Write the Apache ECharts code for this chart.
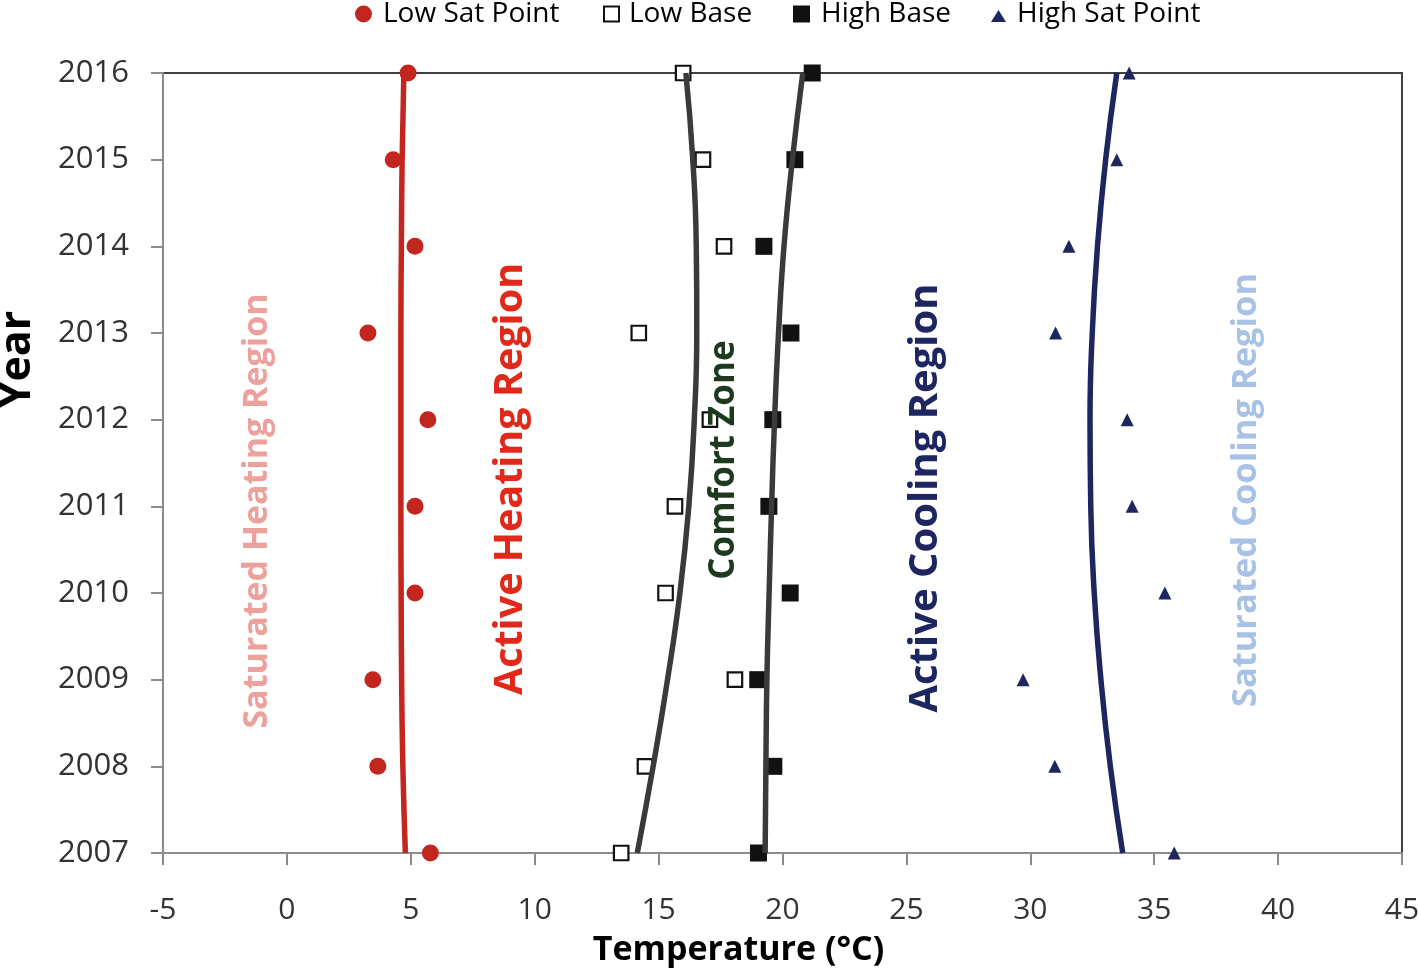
<!DOCTYPE html>
<html>
<head>
<meta charset="utf-8">
<script src="https://cdn.jsdelivr.net/npm/echarts@6/dist/echarts.min.js"></script>
<style>
  html, body { margin: 0; padding: 0; background: #fff; }
  #chart { width: 1418px; height: 971px; }
</style>
</head>
<body>
<div id="chart"></div>
<script>
// ---- data ----
const years = [2007, 2008, 2009, 2010, 2011, 2012, 2013, 2014, 2015, 2016];
const lowSatPoint  = [5.79, 3.67, 3.47, 5.17, 5.17, 5.69, 3.27, 5.17, 4.29, 4.89];
const lowBase      = [13.49, 14.45, 18.08, 15.28, 15.66, 17.07, 14.20, 17.64, 16.79, 15.99];
const highBase     = [19.03, 19.65, 19.00, 20.31, 19.45, 19.61, 20.34, 19.25, 20.50, 21.20];
const highSatPoint = [35.81, 30.99, 29.71, 35.43, 34.11, 33.91, 31.02, 31.56, 33.49, 33.99];
// trend lines (one reading per year)
const lowSatTrend   = [4.78, 4.68, 4.63, 4.61, 4.60, 4.60, 4.60, 4.62, 4.65, 4.72];
const lowBaseTrend  = [14.14, 14.78, 15.36, 15.86, 16.22, 16.44, 16.54, 16.52, 16.38, 16.10];
const highBaseTrend = [19.30, 19.33, 19.37, 19.46, 19.56, 19.68, 19.84, 20.06, 20.40, 20.82];
const highSatTrend  = [33.73, 33.23, 32.85, 32.58, 32.44, 32.41, 32.50, 32.71, 33.04, 33.49];
const xTicks = { min: -5, max: 45, step: 5 };
const yTicks = { min: 2007, max: 2016, step: 1 };
const seriesNames = ['Low Sat Point', 'Low Base', 'High Base', 'High Sat Point'];
const regionLabels = ['Saturated Heating Region', 'Active Heating Region', 'Comfort Zone', 'Active Cooling Region', 'Saturated Cooling Region'];

const pair = (xs) => xs.map((v, i) => [v, years[i]]);
const FONT = 'Open Sans';

const chart = echarts.init(document.getElementById('chart'), null, { renderer: 'canvas' });

const legendCommon = {
  top: 0, padding: 0, itemWidth: 23, itemHeight: 18, selectedMode: false,
  textStyle: { fontFamily: FONT, fontSize: 28, color: '#000' }
};

const trendLine = (name, data, color) => ({
  name, type: 'line', data: pair(data), smooth: 0.5, showSymbol: false, symbol: 'none',
  lineStyle: { color, width: 5.5 }, itemStyle: { color }, silent: true, z: 3
});

const regionText = (text, x, y, size, color) => ({
  type: 'text', x, y, rotation: Math.PI / 2, z: 10,
  style: {
    text, fill: color, font: `bold ${size}px "${FONT}"`,
    align: 'center', verticalAlign: 'middle', textAlign: 'center', textVerticalAlign: 'middle'
  }
});

chart.setOption({
  animation: false,
  backgroundColor: '#fff',
  grid: { left: 163, right: 16, top: 73, bottom: 118, containLabel: false, outerBoundsMode: 'none',
          show: true, borderColor: '#404040', borderWidth: 2, backgroundColor: 'transparent' },
  legend: [
    Object.assign({}, legendCommon, { left: 355, data: [{ name: seriesNames[0], icon: 'path://M0,0 M23,18 M0,9 A8.5,8.5 0 1 1 17,9 A8.5,8.5 0 1 1 0,9 Z' }] }),
    Object.assign({}, legendCommon, { left: 600, data: [{ name: seriesNames[1], icon: 'path://M0,0 M23,18 M3,1.5 L18,1.5 L18,16.5 L3,16.5 Z', itemStyle: { color: '#fff', borderColor: '#111', borderWidth: 2 } }] }),
    Object.assign({}, legendCommon, { left: 793, data: [{ name: seriesNames[2], icon: 'path://M0,0 M23,18 M0,0.5 L17,0.5 L17,17.5 L0,17.5 Z' }] }),
    Object.assign({}, legendCommon, { left: 989, data: [{ name: seriesNames[3], icon: 'path://M0,0 M23,18 M2,17 L9.5,5 L17,17 Z' }] })
  ],
  xAxis: {
    type: 'value', min: xTicks.min, max: xTicks.max, interval: xTicks.step,
    name: 'Temperature (°C)', nameLocation: 'middle', nameGap: 80,
    nameTextStyle: { fontFamily: FONT, fontWeight: 'bold', fontSize: 34, color: '#000', padding: [0, 88, 0, 0] },
    axisLine: { show: true, onZero: false, lineStyle: { color: '#8c8c8c', width: 2 } },
    axisTick: { show: true, length: 12, lineStyle: { color: '#8c8c8c', width: 2 } },
    axisLabel: { margin: 42, fontFamily: FONT, fontSize: 30, color: '#333', formatter: (v) => String(v) },
    splitLine: { show: false }
  },
  yAxis: {
    type: 'value', min: yTicks.min, max: yTicks.max, interval: yTicks.step,
    name: 'Year', nameLocation: 'middle', nameGap: 124, nameRotate: 90,
    nameTextStyle: { fontFamily: FONT, fontWeight: 'bold', fontSize: 43, color: '#000', padding: [0, 0, 0, 207] },
    axisLine: { show: true, onZero: false, lineStyle: { color: '#8c8c8c', width: 2 } },
    axisTick: { show: true, length: 12, lineStyle: { color: '#8c8c8c', width: 2 } },
    axisLabel: { margin: 34, fontFamily: FONT, fontSize: 31, color: '#333', formatter: (v) => String(v) },
    splitLine: { show: false }
  },
  series: [
    { name: seriesNames[0], type: 'scatter', data: pair(lowSatPoint), symbol: 'circle', symbolSize: 17,
      itemStyle: { color: '#C3261F', opacity: 1 }, z: 2 },
    { name: seriesNames[1], type: 'scatter', data: pair(lowBase), symbol: 'rect', symbolSize: 14.5,
      itemStyle: { color: '#fff', borderColor: '#111', borderWidth: 2.2, opacity: 1 }, z: 2 },
    { name: seriesNames[2], type: 'scatter', data: pair(highBase), symbol: 'rect', symbolSize: 17,
      itemStyle: { color: '#111', opacity: 1 }, z: 2 },
    { name: seriesNames[3], type: 'scatter', data: pair(highSatPoint), symbol: 'triangle', symbolSize: [13, 13],
      itemStyle: { color: '#1E2660', opacity: 1 }, z: 2 },
    trendLine('Low Sat trend', lowSatTrend, '#C3261F'),
    trendLine('Low Base trend', lowBaseTrend, '#3a3a3a'),
    trendLine('High Base trend', highBaseTrend, '#3a3a3a'),
    trendLine('High Sat trend', highSatTrend, '#1E2660')
  ],
  graphic: [
    regionText(regionLabels[0], 257, 511, 34, '#EDA19C'),
    regionText(regionLabels[1], 511, 479, 39.5, '#E2281B'),
    regionText(regionLabels[2], 724, 460, 35, '#1E3A1E'),
    regionText(regionLabels[3], 926, 498, 40, '#1E2661'),
    regionText(regionLabels[4], 1246, 490, 34.5, '#A8C2E6')
  ]
});
</script>
</body>
</html>
